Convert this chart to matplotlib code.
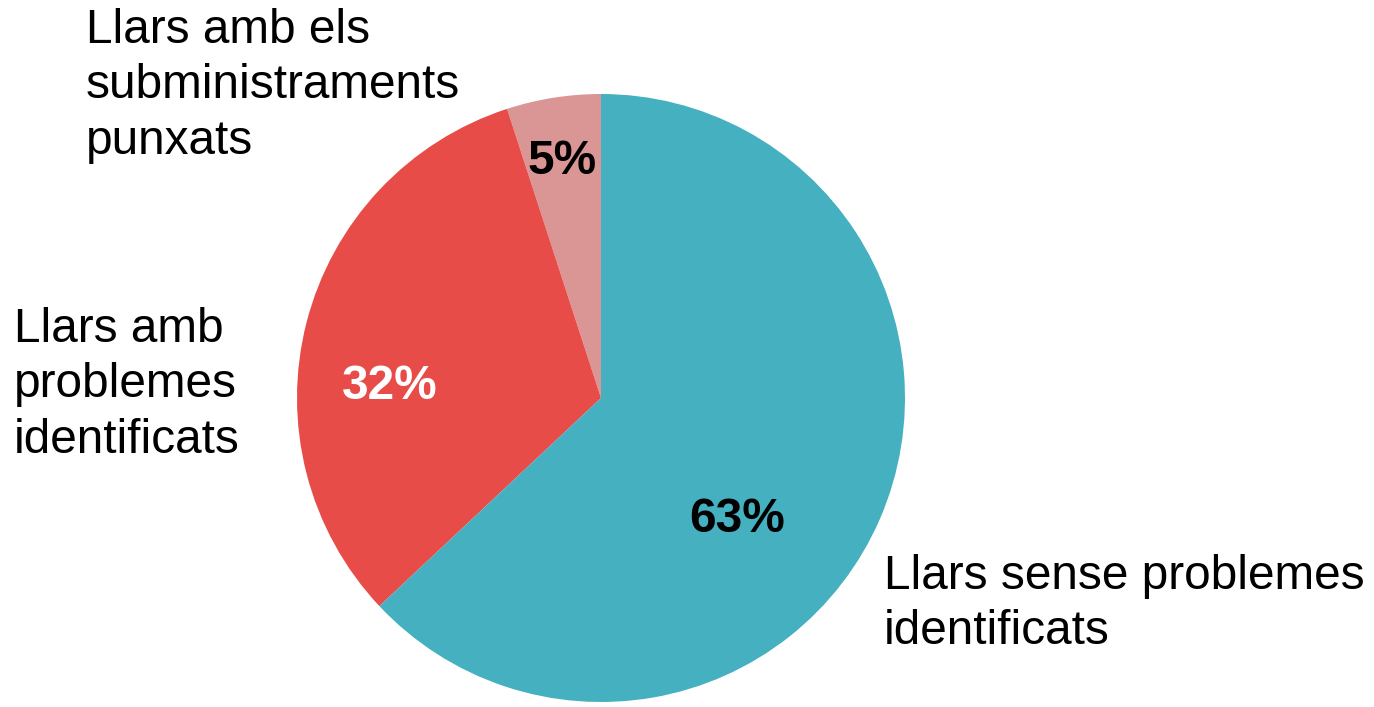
import matplotlib
matplotlib.use("Agg")
import matplotlib.pyplot as plt

# ==========================================================
# DATA
# ==========================================================

categories = ["Llars amb els\nsubministraments\npunxats",
              "Llars amb\nproblemes\nidentificats",
              "Llars sense problemes\nidentificats"]
values = [5, 32, 63]
pct_labels = ["5%", "32%", "63%"]
colors = ["#D99694", "#E84C48", "#45B0BF"]
pct_colors = ["black", "white", "black"]

plt.rcParams["font.family"] = ["Liberation Sans", "DejaVu Sans"]

# ==========================================================
# FIGURE
# ==========================================================

W, H = 1374, 707
cx, cy, R = 601, 398, 304

fig = plt.figure(figsize=(W / 100, H / 100), dpi=100)
ax = fig.add_axes([0, 0, 1, 1])

ax.pie(values, colors=colors, startangle=90, counterclock=True,
       radius=1, center=(0, 0), wedgeprops=dict(linewidth=0))

ax.set_xlim(-cx / R, (W - cx) / R)
ax.set_ylim(-(H - cy) / R, cy / R)
ax.set_aspect("equal")
ax.axis("off")


def d(px, py):
    return (px - cx) / R, (cy - py) / R


# category labels
label_pos = [(86, 86), (14, 385), (884, 604)]
for txt, (px, py) in zip(categories, label_pos):
    x, y = d(px, py)
    ax.text(x, y, txt, ha="left", va="center", fontsize=34.4,
            linespacing=1.3, color="black")

# percentages
pct_pos = [(562, 161), (390, 387), (737, 520)]
for txt, col, (px, py) in zip(pct_labels, pct_colors, pct_pos):
    x, y = d(px, py)
    ax.text(x, y, txt, ha="center", va="center", fontsize=34.4,
            fontweight="bold", color=col)

fig.savefig("out.png", dpi=100)
